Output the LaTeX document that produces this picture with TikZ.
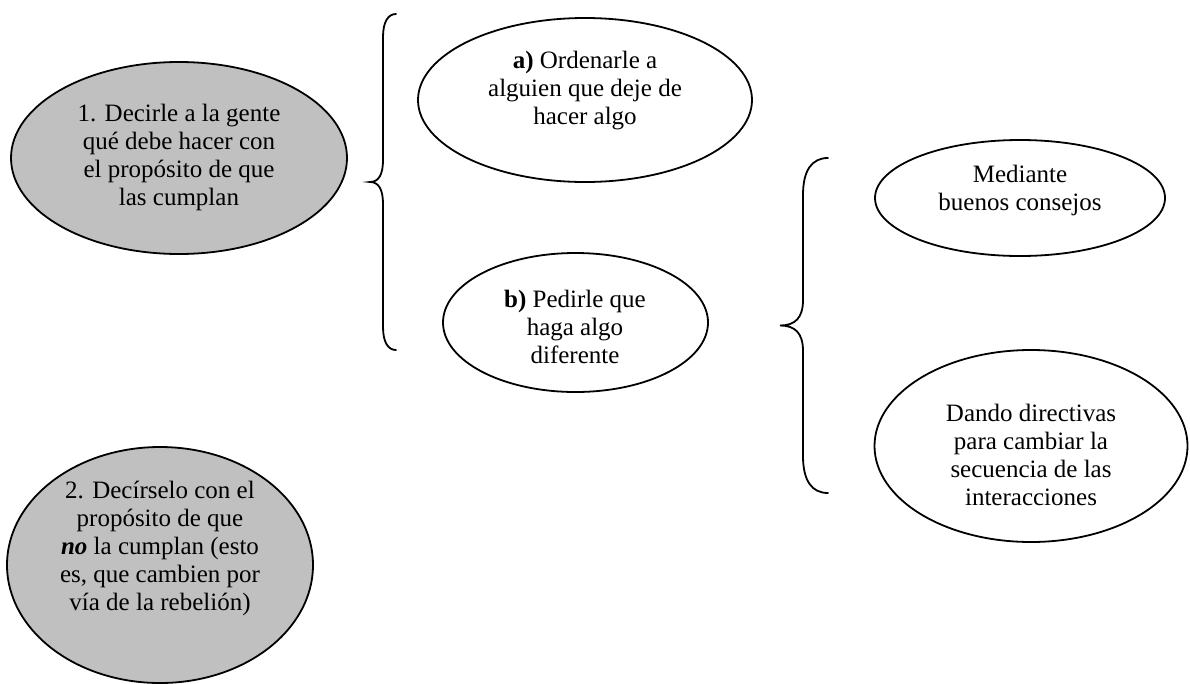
\documentclass[tikz,border=0pt]{standalone}
\usepackage{fontspec}
\setmainfont{Liberation Serif}
\usetikzlibrary{shapes.geometric}
\definecolor{ovalgray}{RGB}{192,192,192}
\begin{document}
\begin{tikzpicture}[x=1pt,y=-1pt,
  oval/.style={ellipse, draw=black, line width=1.8pt, inner sep=0pt},
  grayoval/.style={oval, fill=ovalgray},
  whiteoval/.style={oval, fill=white},
  txt/.style={align=center, font=\fontsize{25}{28}\selectfont, inner sep=0pt},
  bracepath/.style={line width=1.8pt, line cap=round}]
\useasboundingbox (0,0) rectangle (1190,683);

% ovals
\node[grayoval, minimum width=336pt, minimum height=192pt] (e1) at (179,158) {};
\node[grayoval, minimum width=306pt, minimum height=236pt] (e2) at (160,565) {};
\node[whiteoval, minimum width=334pt, minimum height=164pt] (ea) at (585,100) {};
\node[whiteoval, minimum width=265pt, minimum height=139pt] (eb) at (575.5,322.5) {};
\node[whiteoval, minimum width=290pt, minimum height=116pt] (em) at (1020,198) {};
\node[whiteoval, minimum width=313pt, minimum height=192pt] (ed) at (1031,446) {};

% texts
\node[txt] (t1) at (179,157) {1. Decirle a la gente\\qué debe hacer con\\el propósito de que\\las cumplan};
\node[txt] (t2) at (160,548) {2. Decírselo con el\\propósito de que\\\textbf{\textit{no}} la cumplan (esto\\es, que cambien por\\vía de la rebelión)};
\node[txt] (ta) at (585,91) {\textbf{a)} Ordenarle a\\alguien que deje de\\hacer algo};
\node[txt] (tb) at (575,327) {\textbf{b)} Pedirle que\\haga algo\\diferente};
\node[txt] (tm) at (1020,190) {Mediante\\buenos consejos};
\node[txt] (td) at (1031,455) {Dando directivas\\para cambiar la\\secuencia de las\\interacciones};

% braces
\coordinate (b1top) at (396,14);
\coordinate (b1tip) at (370,182);
\coordinate (b1bot) at (396,350);
\draw[bracepath] (b1top) .. controls (388,14) and (383,22) .. (383,37)
  -- (383,160) .. controls (383,174) and (379,182) .. (b1tip)
  .. controls (379,182) and (383,190) .. (383,204)
  -- (383,327) .. controls (383,342) and (388,350) .. (b1bot);

\coordinate (b2top) at (828,158);
\coordinate (b2tip) at (780,325.5);
\coordinate (b2bot) at (828,493);
\draw[bracepath] (b2top) .. controls (812,158) and (803,170) .. (803,195)
  -- (803,300) .. controls (803,318) and (795,325.5) .. (b2tip)
  .. controls (795,325.5) and (803,333) .. (803,351)
  -- (803,456) .. controls (803,481) and (812,493) .. (b2bot);
\end{tikzpicture}
\end{document}
